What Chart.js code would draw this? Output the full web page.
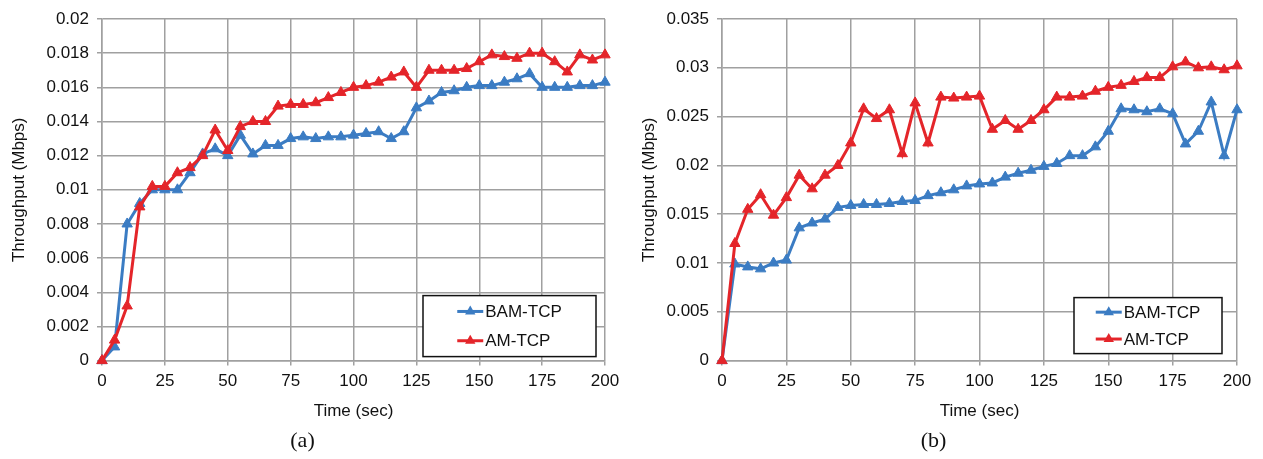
<!DOCTYPE html>
<html>
<head>
<meta charset="utf-8">
<script src="https://cdn.jsdelivr.net/npm/chart.js@4"></script>
<style>
  html, body { margin: 0; padding: 0; background: #ffffff; }
  #wrapA { position: absolute; left: 0; top: 0; width: 630px; height: 459px; }
  #wrapB { position: absolute; left: 630px; top: 0; width: 633px; height: 459px; }
</style>
</head>
<body>
<div id="wrapA"><canvas id="chartA" width="630" height="459"></canvas></div>
<div id="wrapB"><canvas id="chartB" width="633" height="459"></canvas></div>
<script>
// ---- data ----
const times = [0,5,10,15,20,25,30,35,40,45,50,55,60,65,70,75,80,85,90,95,100,105,110,115,120,125,130,135,140,145,150,155,160,165,170,175,180,185,190,195,200];
const seriesNames = ['BAM-TCP', 'AM-TCP'];
const bamA = [0,0.0008,0.008,0.0092,0.01,0.01,0.01,0.011,0.0121,0.0124,0.012,0.0132,0.0121,0.0126,0.0126,0.013,0.0131,0.013,0.0131,0.0131,0.0132,0.0133,0.0134,0.013,0.0134,0.0148,0.0152,0.0157,0.0158,0.016,0.0161,0.0161,0.0163,0.0165,0.0168,0.016,0.016,0.016,0.0161,0.0161,0.0163];
const amA = [0,0.0012,0.0032,0.009,0.0102,0.0102,0.011,0.0113,0.012,0.0135,0.0123,0.0137,0.014,0.014,0.0149,0.015,0.015,0.0151,0.0154,0.0157,0.016,0.0161,0.0163,0.0166,0.0169,0.016,0.017,0.017,0.017,0.0171,0.0175,0.0179,0.0178,0.0177,0.018,0.018,0.0175,0.0169,0.0179,0.0176,0.0179];
const bamB = [0,0.0099,0.0096,0.0094,0.01,0.0103,0.0136,0.0141,0.0145,0.0157,0.0159,0.016,0.016,0.0161,0.0163,0.0164,0.0169,0.0172,0.0175,0.0179,0.0181,0.0182,0.0188,0.0192,0.0195,0.0199,0.0202,0.021,0.021,0.0219,0.0235,0.0258,0.0257,0.0255,0.0258,0.0253,0.0222,0.0235,0.0265,0.021,0.0257];
const amB = [0,0.012,0.0155,0.017,0.0149,0.0167,0.019,0.0176,0.019,0.02,0.0223,0.0258,0.0248,0.0257,0.0212,0.0264,0.0223,0.027,0.0269,0.027,0.0271,0.0237,0.0246,0.0237,0.0246,0.0257,0.027,0.027,0.0271,0.0276,0.028,0.0282,0.0286,0.029,0.029,0.0301,0.0306,0.03,0.0301,0.0298,0.0302];
const xTicks = [0,25,50,75,100,125,150,175,200];
const yMaxA = 0.02, yStepA = 0.002;
const yMaxB = 0.035, yStepB = 0.005;
const xTitle = 'Time (sec)';
const yTitle = 'Throughput (Mbps)';
const captions = ['(a)', '(b)'];

// ---- styles ----
const COLORS = ['#3b7cc3', '#e4252a'];
const GRID = '#a0a0a0';
const SANS = "'Liberation Sans', Arial, sans-serif";

const boxLegend = {
  id: 'boxLegend',
  afterDraw(chart, args, opts) {
    const ctx = chart.ctx;
    const ca = chart.chartArea;
    const x0 = ca.right - opts.right - opts.width;
    const y0 = ca.bottom - opts.bottom - opts.height;
    ctx.save();
    ctx.fillStyle = '#ffffff';
    ctx.fillRect(x0, y0, opts.width, opts.height);
    ctx.strokeStyle = '#111';
    ctx.lineWidth = 1.5;
    ctx.strokeRect(x0, y0, opts.width, opts.height);
    ctx.font = '17px ' + SANS;
    ctx.textBaseline = 'middle';
    const ds = chart.data.datasets;
    const sample = 26, gap = 2;
    let maxW = 0;
    ds.forEach(d => { maxW = Math.max(maxW, ctx.measureText(d.label).width); });
    const groupW = sample + gap + maxW;
    const gx = x0 + (opts.width - groupW) / 2;
    ds.forEach((d, i) => {
      const cy = y0 + opts.height * (i === 0 ? 0.26 : 0.74);
      ctx.strokeStyle = d.borderColor;
      ctx.lineWidth = 3;
      ctx.beginPath();
      ctx.moveTo(gx, cy);
      ctx.lineTo(gx + sample, cy);
      ctx.stroke();
      const cx = gx + sample / 2, r = 6;
      ctx.fillStyle = d.backgroundColor;
      ctx.beginPath();
      ctx.moveTo(cx, cy - r);
      ctx.lineTo(cx + r * 0.866, cy + r * 0.5);
      ctx.lineTo(cx - r * 0.866, cy + r * 0.5);
      ctx.closePath();
      ctx.fill();
      ctx.fillStyle = '#111';
      ctx.textAlign = 'left';
      ctx.fillText(d.label, gx + sample + gap, cy + 1);
    });
    ctx.restore();
  }
};

function fmt(v) {
  return String(Number(v.toFixed(4)));
}

function makeChart(id, bam, am, yMax, yStep, caption, dims) {
  const mk = (label, data, color, order) => ({
    label, data: times.map((t, i) => ({ x: t, y: data[i] })),
    borderColor: color, backgroundColor: color,
    borderWidth: 3, pointStyle: 'triangle', pointRadius: 6,
    pointBorderWidth: 1, pointBorderColor: color, pointBackgroundColor: color,
    tension: 0, clip: false, order
  });
  return new Chart(document.getElementById(id), {
    type: 'line',
    data: { datasets: [mk(seriesNames[0], bam, COLORS[0], 1), mk(seriesNames[1], am, COLORS[1], 0)] },
    options: {
      responsive: false,
      animation: false,
      devicePixelRatio: 1,
      layout: { padding: { top: 19, right: dims.padRight, left: 0, bottom: 0 } },
      plugins: {
        legend: { display: false },
        tooltip: { enabled: false },
        title: {
          display: true, position: 'bottom', text: caption, color: '#111',
          font: { family: "'Liberation Serif', 'Times New Roman', serif", size: 22, weight: 'normal' },
          padding: { top: 0, bottom: 5 }
        },
        boxLegend: dims.legend
      },
      scales: {
        x: {
          type: 'linear', min: 0, max: 200,
          afterBuildTicks: (s) => { s.ticks = xTicks.map(v => ({ value: v })); },
          afterFit: (s) => { s.height = 67; },
          grid: { color: GRID, lineWidth: 1.5, tickLength: 5, drawTicks: true, tickColor: GRID },
          border: { color: GRID, width: 1.5 },
          ticks: { color: '#111', padding: 6, maxRotation: 0, font: { family: SANS, size: 17 } },
          title: { display: true, text: xTitle, color: '#111', font: { family: SANS, size: 17 }, padding: { top: 0, bottom: 6 } }
        },
        y: {
          type: 'linear', min: 0, max: yMax,
          ticks: { stepSize: yStep, color: '#111', padding: 8, font: { family: SANS, size: 17 }, callback: (v) => fmt(v) },
          afterFit: (s) => { s.width = dims.yWidth; },
          grid: { color: GRID, lineWidth: 1.5, tickLength: 5, tickColor: GRID },
          border: { color: GRID, width: 1.5 },
          title: { display: true, text: yTitle, color: '#111', font: { family: SANS, size: 17 }, padding: { top: 9, bottom: 0 } }
        }
      }
    },
    plugins: [boxLegend]
  });
}

makeChart('chartA', bamA, amA, yMaxA, yStepA, captions[0], {
  yWidth: 102, padRight: 25,
  legend: { right: 9, bottom: 4, width: 173, height: 61 }
});
makeChart('chartB', bamB, amB, yMaxB, yStepB, captions[1], {
  yWidth: 92, padRight: 26,
  legend: { right: 15, bottom: 7, width: 148, height: 56 }
});
</script>
</body>
</html>
